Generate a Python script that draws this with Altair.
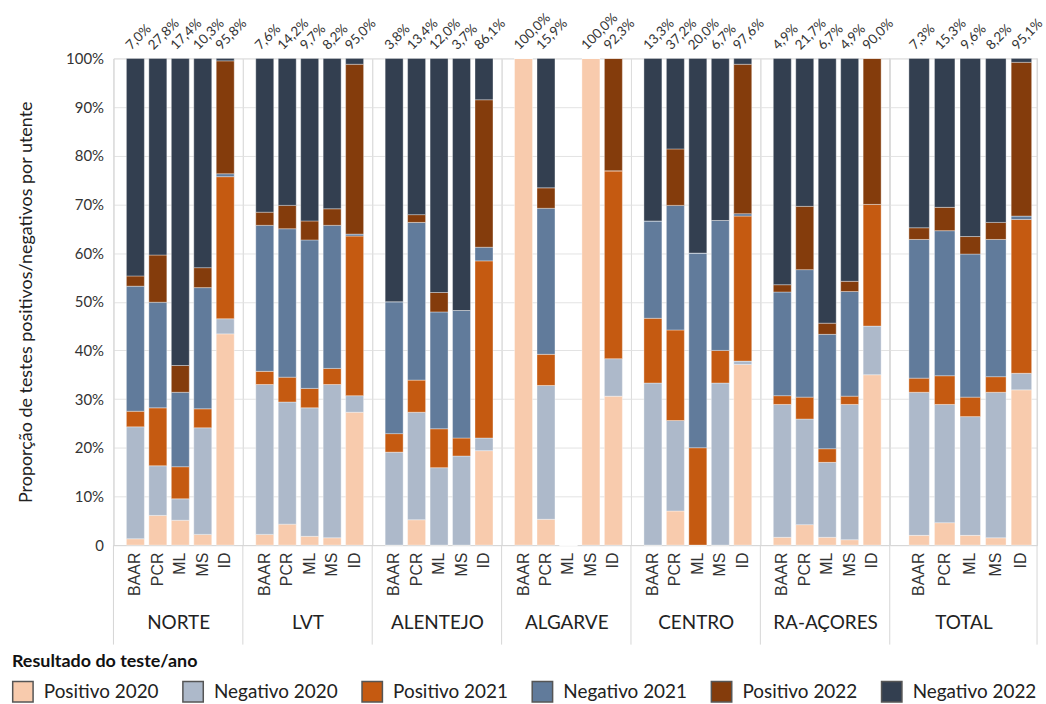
import altair as alt
import pandas as pd

regions = ["NORTE", "LVT", "ALENTEJO", "ALGARVE", "CENTRO", "RA-AÇORES", "TOTAL"]
tests = ["BAAR", "PCR", "ML", "MS", "ID"]
categories = ["Positivo 2020", "Negativo 2020", "Positivo 2021",
              "Negativo 2021", "Positivo 2022", "Negativo 2022"]
colors = ["#f8cbad", "#adb9ca", "#c55a11", "#617b9b", "#843c0c", "#333f50"]

# segment values (%) per test: [Pos2020, Neg2020, Pos2021, Neg2021, Pos2022, Neg2022]
norte = [[1.3, 23.0, 3.2, 25.7, 2.1, 44.7],
         [6.1, 10.2, 11.9, 21.7, 9.7, 40.4],
         [5.1, 4.4, 6.6, 15.3, 5.5, 63.1],
         [2.2, 21.9, 3.9, 24.9, 4.1, 43.0],
         [43.4, 3.1, 29.2, 0.6, 23.2, 0.5]]
lvt = [[2.2, 30.8, 2.7, 30.0, 2.7, 31.6],
       [4.3, 25.1, 5.1, 30.5, 4.8, 30.2],
       [1.8, 26.4, 4.0, 30.5, 3.9, 33.4],
       [1.5, 31.5, 3.3, 29.4, 3.4, 30.9],
       [27.3, 3.4, 32.8, 0.4, 34.9, 1.2]]
alentejo = [[0.0, 19.1, 3.8, 27.1, 0.0, 50.0],
            [5.2, 22.1, 6.6, 32.4, 1.6, 32.1],
            [0.0, 15.9, 8.0, 24.0, 4.0, 48.1],
            [0.0, 18.3, 3.7, 26.2, 0.0, 51.8],
            [19.4, 2.6, 36.4, 2.8, 30.3, 8.5]]
algarve = [[100.0, 0.0, 0.0, 0.0, 0.0, 0.0],
           [5.3, 27.5, 6.4, 30.0, 4.2, 26.6],
           [0.0, 0.0, 0.0, 0.0, 0.0, 0.0],
           [100.0, 0.0, 0.0, 0.0, 0.0, 0.0],
           [30.6, 7.7, 38.6, 0.0, 23.1, 0.0]]
centro = [[0.0, 33.3, 13.3, 20.0, 0.0, 33.4],
          [7.0, 18.6, 18.6, 25.6, 11.6, 18.6],
          [0.0, 0.0, 20.0, 40.0, 0.0, 40.0],
          [0.0, 33.3, 6.7, 26.7, 0.0, 33.3],
          [37.1, 0.7, 29.8, 0.5, 30.7, 1.2]]
acores = [[1.6, 27.3, 1.8, 21.3, 1.5, 46.5],
          [4.2, 21.7, 4.5, 26.2, 13.0, 30.4],
          [1.6, 15.4, 2.8, 23.5, 2.3, 54.4],
          [1.1, 27.8, 1.7, 21.5, 2.1, 45.8],
          [35.0, 10.0, 25.0, 0.0, 30.0, 0.0]]
total = [[2.0, 29.4, 2.9, 28.5, 2.4, 34.8],
         [4.6, 24.3, 5.9, 29.8, 4.8, 30.6],
         [2.0, 24.4, 4.0, 29.4, 3.6, 36.6],
         [1.5, 29.9, 3.2, 28.2, 3.5, 33.7],
         [31.9, 3.4, 31.6, 0.7, 31.6, 0.8]]
all_values = [norte, lvt, alentejo, algarve, centro, acores, total]

top_labels = [["7,0%", "27,8%", "17,4%", "10,3%", "95,8%"],
              ["7,6%", "14,2%", "9,7%", "8,2%", "95,0%"],
              ["3,8%", "13,4%", "12,0%", "3,7%", "86,1%"],
              ["100,0%", "15,9%", "", "100,0%", "92,3%"],
              ["13,3%", "37,2%", "20,0%", "6,7%", "97,6%"],
              ["4,9%", "21,7%", "6,7%", "4,9%", "90,0%"],
              ["7,3%", "15,3%", "9,6%", "8,2%", "95,1%"]]

rows = []
for r, vals in zip(regions, all_values):
    for t, seg in zip(tests, vals):
        for ci, (c, v) in enumerate(zip(categories, seg)):
            rows.append({"region": r, "test": t, "cat": c, "ci": ci, "value": v})
df = pd.DataFrame(rows)

lab_rows = []
for r, labs in zip(regions, top_labels):
    for t, l in zip(tests, labs):
        if l:
            lab_rows.append({"region": r, "test": t, "label": l})
labdf = pd.DataFrame(lab_rows)

H = 489
FONT = "Lato"
GRID = "#e3e3e3"
LINE = "#d6d6d6"
yvals = list(range(0, 101, 10))


def panel(i, region):
    first = i == 0
    is_total = region == "TOTAL"
    w = 148 if is_total else 130
    align = 0.78 if is_total else 0.6
    xscale = alt.Scale(domain=tests, paddingInner=0.2, paddingOuter=0.48, align=align)
    xaxis = alt.Axis(title=region, labelAngle=270, labelFont="Liberation Sans",
                     labelFontSize=16, labelColor="#333", labelPadding=7,
                     ticks=False, domainColor=LINE, grid=False,
                     titleFont=FONT, titleFontSize=19, titleFontWeight="normal",
                     titleColor="#222", titlePadding=18)
    if first:
        yaxis = alt.Axis(values=yvals,
                         labelExpr="datum.value == 0 ? '0' : datum.value + '%'",
                         title="Proporção de testes positivos/negativos por utente",
                         titleFont=FONT, titleFontSize=18, titleFontWeight="normal",
                         titleColor="#222", titlePadding=30,
                         labelFont=FONT, labelFontSize=15, labelColor="#333",
                         labelPadding=10, ticks=False, domain=True,
                         domainColor=LINE, grid=True, gridColor=GRID)
    else:
        yaxis = alt.Axis(values=yvals, labels=False, ticks=False, domain=False,
                         title=None, grid=True, gridColor=GRID, labelPadding=0,
                         minExtent=0, maxExtent=0)
    bars = alt.Chart(df).transform_filter(alt.datum.region == region).mark_bar(
        stroke="#ffffff", strokeWidth=0.5, strokeOpacity=0.7
    ).encode(
        x=alt.X("test:N", sort=tests, scale=xscale, axis=xaxis),
        y=alt.Y("value:Q", stack="zero", scale=alt.Scale(domain=[0, 100], nice=False),
                axis=yaxis),
        color=alt.Color("cat:N", scale=alt.Scale(domain=categories, range=colors),
                        legend=alt.Legend(title="Resultado do teste/ano", orient="none",
                                          legendX=-102, legendY=597,
                                          direction="horizontal", columns=6,
                                          titleFont=FONT, titleFontSize=18,
                                          titleFontWeight="bold", titleColor="#111",
                                          titlePadding=10, titleLimit=500,
                                          labelFont=FONT, labelFontSize=19,
                                          labelColor="#222", labelLimit=300,
                                          labelOffset=10,
                                          symbolType="square", symbolSize=420,
                                          symbolStrokeColor="#555",
                                          symbolStrokeWidth=1.5, symbolOpacity=1,
                                          columnPadding=20)),
        order=alt.Order("ci:Q", sort="ascending"),
    )
    txt = alt.Chart(labdf).transform_filter(alt.datum.region == region).mark_text(
        angle=315, align="left", baseline="bottom", font=FONT, fontSize=13.5,
        color="#333", dx=-3
    ).encode(
        x=alt.X("test:N", sort=tests, scale=xscale, axis=xaxis),
        y=alt.value(-8),
        text="label:N",
    )
    one = pd.DataFrame({"k": [0]})
    seps = [alt.Chart(one).mark_rule(color=LINE, strokeWidth=1).encode(
        x=alt.value(0), y=alt.value(0 if is_total else H), y2=alt.value(H + 100))]
    if is_total:
        seps.append(alt.Chart(one).mark_rule(color=LINE, strokeWidth=1).encode(
            x=alt.value(w), y=alt.value(0), y2=alt.value(H + 100)))
    return alt.layer(bars, txt, *seps).properties(width=w, height=H)


chart = alt.hconcat(*[panel(i, r) for i, r in enumerate(regions)], spacing=0,
                    bounds="flush").resolve_scale(
    x="independent"
).properties(
    padding={"left": 12, "top": 8, "right": 0, "bottom": 0}
).configure_view(stroke="transparent", strokeWidth=0, strokeOpacity=0).configure(
    background="white")

chart.save("out.html", embed_options={"renderer": "svg", "actions": False})
